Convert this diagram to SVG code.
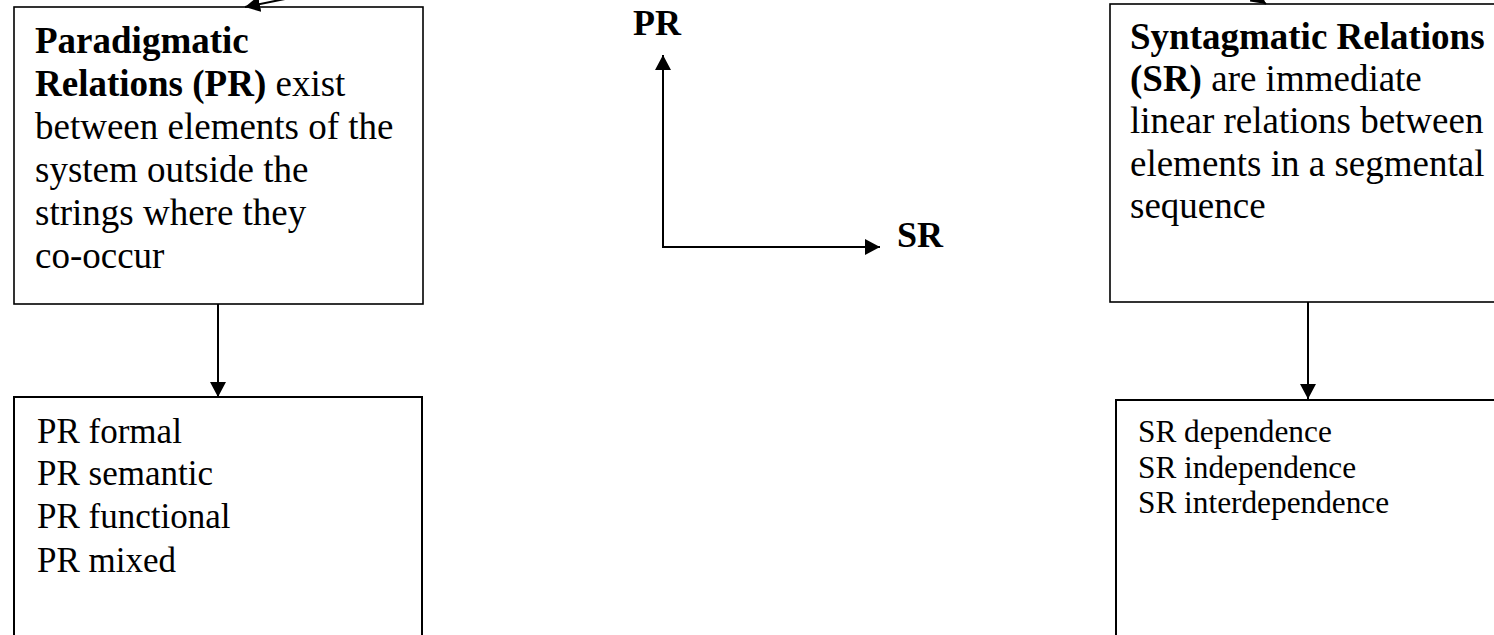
<svg xmlns="http://www.w3.org/2000/svg" width="1494" height="635" viewBox="0 0 1494 635">
<style>
.box{fill:#fff;stroke:#000;stroke-width:1.6}
.box2{fill:#fff;stroke:#000;stroke-width:2}
.t{font-family:"Liberation Serif","Times New Roman",serif;fill:#000}
.b{font-weight:bold}
.big{font-size:37px}
.mid{font-size:35px}
.sm{font-size:31.3px}
.lab{font-size:36px;font-weight:bold}
.con{stroke:#000;stroke-width:2;fill:none}
</style>
<defs>
<marker id="ah" markerUnits="userSpaceOnUse" markerWidth="16" markerHeight="16" refX="15" refY="8" orient="auto-start-reverse" viewBox="0 0 16 16">
<path d="M0,0 L15,8 L0,16 z" fill="#000"/>
</marker>
</defs>
<rect width="1494" height="635" fill="#fff"/>
<g id="pr-box">
<rect class="box" x="14" y="7" width="409" height="297"/>
<text class="t big" x="35" y="53"><tspan class="b">Paradigmatic</tspan></text>
<text class="t big" x="35" y="96"><tspan class="b">Relations (PR)</tspan> exist</text>
<text class="t big" x="35" y="139">between elements of the</text>
<text class="t big" x="35" y="182">system outside the</text>
<text class="t big" x="35" y="225">strings where they</text>
<text class="t big" x="35" y="268">co-occur</text>
</g>
<g id="pr-types">
<rect class="box2" x="14" y="397" width="408" height="260"/>
<text class="t mid" x="37" y="443">PR formal</text>
<text class="t mid" x="37" y="485">PR semantic</text>
<text class="t mid" x="37" y="528">PR functional</text>
<text class="t mid" x="37" y="572">PR mixed</text>
</g>
<g id="sr-box">
<rect class="box" x="1110" y="4" width="400" height="298"/>
<text class="t big" x="1130" y="49"><tspan class="b">Syntagmatic Relations</tspan></text>
<text class="t big" x="1130" y="91"><tspan class="b">(SR)</tspan> are immediate</text>
<text class="t big" x="1130" y="133">linear relations between</text>
<text class="t big" x="1130" y="176">elements in a segmental</text>
<text class="t big" x="1130" y="218">sequence</text>
</g>
<g id="sr-types">
<rect class="box2" x="1116" y="400" width="400" height="260"/>
<text class="t sm" x="1138" y="442">SR dependence</text>
<text class="t sm" x="1138" y="478">SR independence</text>
<text class="t sm" x="1138" y="513">SR interdependence</text>
</g>
<g id="axes">
<text class="t lab" x="633" y="35">PR</text>
<text class="t lab" x="897" y="247">SR</text>
</g>
<g id="connectors">
<line class="con" x1="300" y1="-4" x2="245" y2="7" marker-end="url(#ah)"/>
<line class="con" x1="1245" y1="-12" x2="1266" y2="4" marker-end="url(#ah)"/>
<line class="con" x1="218" y1="304" x2="218" y2="397" marker-end="url(#ah)"/>
<line class="con" x1="1308" y1="302" x2="1308" y2="399" marker-end="url(#ah)"/>
<polyline class="con" points="663,55 663,247 880,247" marker-start="url(#ah)" marker-end="url(#ah)"/>
</g>
</svg>
